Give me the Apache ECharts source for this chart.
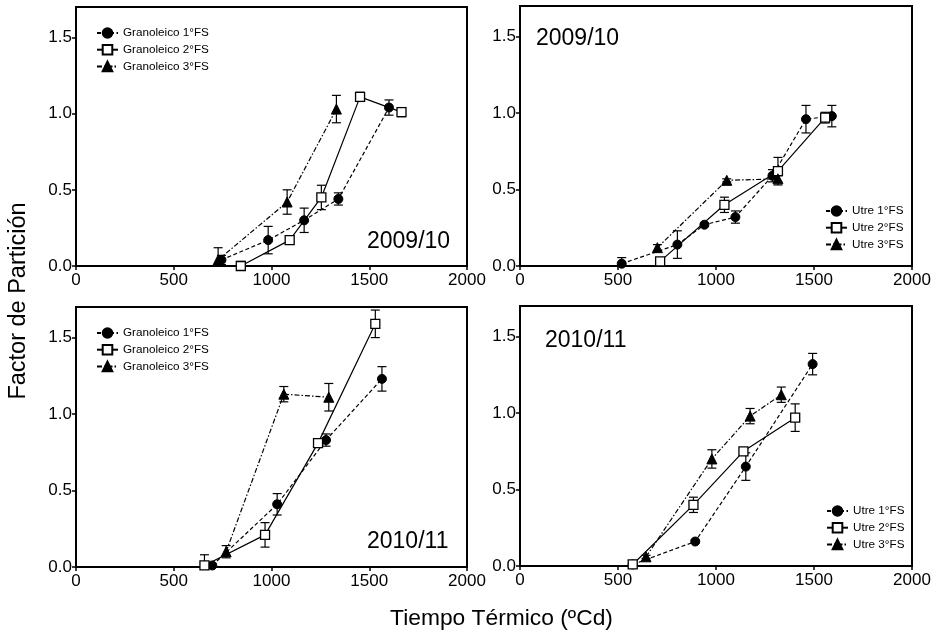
<!DOCTYPE html>
<html><head><meta charset="utf-8">
<script src="https://cdn.jsdelivr.net/npm/echarts@6/dist/echarts.min.js"></script>
<style>html,body{margin:0;padding:0;background:#fff}#c{width:937px;height:634px}</style>
</head><body><div id="c"></div>
<script>
// ---- tick labels / names ----
const xTicks = [0, 500, 1000, 1500, 2000];
const yTicks = [0, 0.5, 1.0, 1.5];
const granNames = ['Granoleico 1°FS', 'Granoleico 2°FS', 'Granoleico 3°FS'];
const utreNames = ['Utre 1°FS', 'Utre 2°FS', 'Utre 3°FS'];
const yearLabels = ['2009/10', '2009/10', '2010/11', '2010/11'];
const xTitle = 'Tiempo Térmico (ºCd)';
const yTitle = 'Factor de Partición';

// ---- Panel 1: Granoleico 2009/10 ----
const g09_fs1_x = [744, 983, 1167, 1342, 1601];
const g09_fs1_y = [0.04, 0.17, 0.30, 0.44, 1.04];
const g09_fs1_e = [0.03, 0.09, 0.08, 0.04, 0.05];
const g09_fs2_x = [843, 1093, 1255, 1453, 1665];
const g09_fs2_y = [0.00, 0.17, 0.45, 1.11, 1.01];
const g09_fs2_e = [0.03, 0.01, 0.08, 0.03, 0.03];
const g09_fs3_x = [727, 1080, 1332];
const g09_fs3_y = [0.04, 0.42, 1.03];
const g09_fs3_e = [0.08, 0.08, 0.09];

// ---- Panel 2: Utre 2009/10 ----
const u09_fs1_x = [519, 803, 941, 1099, 1288, 1459, 1591];
const u09_fs1_y = [0.015, 0.14, 0.27, 0.32, 0.59, 0.96, 0.98];
const u09_fs1_e = [0.04, 0.09, 0.01, 0.04, 0.04, 0.09, 0.07];
const u09_fs2_x = [715, 1043, 1316, 1557];
const u09_fs2_y = [0.03, 0.40, 0.62, 0.97];
const u09_fs2_e = [0.02, 0.05, 0.09, 0.035];
const u09_fs3_x = [701, 1055, 1316];
const u09_fs3_y = [0.12, 0.56, 0.57];
const u09_fs3_e = [0.02, 0.01, 0.02];

// ---- Panel 3: Granoleico 2010/11 ----
const g10_fs1_x = [697, 1029, 1279, 1565];
const g10_fs1_y = [0.01, 0.41, 0.83, 1.23];
const g10_fs1_e = [0.01, 0.07, 0.04, 0.08];
const g10_fs2_x = [657, 967, 1238, 1531];
const g10_fs2_y = [0.01, 0.21, 0.81, 1.59];
const g10_fs2_e = [0.07, 0.08, 0.02, 0.09];
const g10_fs3_x = [768, 1063, 1293];
const g10_fs3_y = [0.10, 1.13, 1.11];
const g10_fs3_e = [0.04, 0.05, 0.09];

// ---- Panel 4: Utre 2010/11 ----
const u10_fs1_x = [575, 894, 1152, 1493];
const u10_fs1_y = [0.01, 0.16, 0.65, 1.32];
const u10_fs1_e = [0.01, 0.01, 0.09, 0.07];
const u10_fs2_x = [575, 885, 1140, 1404];
const u10_fs2_y = [0.01, 0.40, 0.75, 0.97];
const u10_fs2_e = [0.01, 0.05, 0.02, 0.09];
const u10_fs3_x = [643, 979, 1174, 1333];
const u10_fs3_y = [0.06, 0.70, 0.98, 1.12];
const u10_fs3_e = [0.01, 0.06, 0.05, 0.05];

const panels = [
  {names: granNames, s: [[g09_fs1_x, g09_fs1_y, g09_fs1_e], [g09_fs2_x, g09_fs2_y, g09_fs2_e], [g09_fs3_x, g09_fs3_y, g09_fs3_e]]},
  {names: utreNames, s: [[u09_fs1_x, u09_fs1_y, u09_fs1_e], [u09_fs2_x, u09_fs2_y, u09_fs2_e], [u09_fs3_x, u09_fs3_y, u09_fs3_e]]},
  {names: granNames, s: [[g10_fs1_x, g10_fs1_y, g10_fs1_e], [g10_fs2_x, g10_fs2_y, g10_fs2_e], [g10_fs3_x, g10_fs3_y, g10_fs3_e]]},
  {names: utreNames, s: [[u10_fs1_x, u10_fs1_y, u10_fs1_e], [u10_fs2_x, u10_fs2_y, u10_fs2_e], [u10_fs3_x, u10_fs3_y, u10_fs3_e]]}
];

const FONT = '"Liberation Sans", Arial, sans-serif';
const gridPos = [
  {left: 76, top: 7, width: 391, height: 259},
  {left: 520, top: 6, width: 392, height: 260},
  {left: 76, top: 307, width: 391, height: 260},
  {left: 520, top: 306, width: 392, height: 260}
];
const legendPos = [
  {left: 96, top: 27},
  {left: 825, top: 205},
  {left: 96, top: 327},
  {left: 826, top: 505}
];
const yearPos = [
  {x: 367, y: 242},
  {x: 536, y: 38.5},
  {x: 367, y: 541.5},
  {x: 545, y: 341}
];

const styles = [
  {symbol: 'circle', symbolSize: 9, itemStyle: {color: '#000', borderColor: '#000', borderWidth: 1}, lineStyle: {color: '#000', width: 1.2, type: [4, 2.5]}},
  {symbol: 'rect', symbolSize: 9, itemStyle: {color: '#fff', borderColor: '#000', borderWidth: 1.3}, lineStyle: {color: '#000', width: 1.2, type: 'solid'}},
  {symbol: 'triangle', symbolSize: 10, itemStyle: {color: '#000', borderColor: '#000', borderWidth: 1}, lineStyle: {color: '#000', width: 1.2, type: [5, 2, 1.5, 2]}}
];

function errRender(params, api) {
  const x = api.value(0), y = api.value(1), e = api.value(2);
  const t = api.coord([x, y + e]);
  const b = api.coord([x, Math.max(0, y - e)]);
  const w = 4.5;
  const st = {stroke: '#000', lineWidth: 1.2};
  const ch = [{type: 'line', shape: {x1: t[0], y1: t[1], x2: b[0], y2: b[1]}, style: st},
              {type: 'line', shape: {x1: t[0] - w, y1: t[1], x2: t[0] + w, y2: t[1]}, style: st}];
  if (y - e > 0) ch.push({type: 'line', shape: {x1: b[0] - w, y1: b[1], x2: b[0] + w, y2: b[1]}, style: st});
  return {type: 'group', children: ch};
}

const grid = [], xAxis = [], yAxis = [], series = [], legend = [], graphic = [];
panels.forEach((p, gi) => {
  grid.push(Object.assign({show: true, borderColor: '#000', borderWidth: 2, backgroundColor: 'transparent'}, gridPos[gi]));
  xAxis.push({
    type: 'value', gridIndex: gi, min: 0, max: 2000, interval: 500,
    axisLine: {show: true, lineStyle: {color: '#000', width: 2}},
    axisTick: {show: true, length: 4, lineStyle: {color: '#000', width: 1.5}, customValues: xTicks},
    axisLabel: {color: '#000', fontSize: 17, fontFamily: FONT, margin: 6, customValues: xTicks,
      formatter: v => String(Math.round(v))},
    splitLine: {show: false}
  });
  yAxis.push({
    type: 'value', gridIndex: gi, min: 0, max: 1.7,
    axisLine: {show: true, lineStyle: {color: '#000', width: 2}},
    axisTick: {show: true, length: 4, lineStyle: {color: '#000', width: 1.5}, customValues: yTicks},
    axisLabel: {color: '#000', fontSize: 17, fontFamily: FONT, margin: 4, customValues: yTicks,
      formatter: v => Number(v).toFixed(1)},
    splitLine: {show: false}
  });
  p.s.forEach((d, si) => {
    const [xs, ys, es] = d;
    series.push({
      type: 'custom', name: 'err' + gi + '_' + si, xAxisIndex: gi, yAxisIndex: gi,
      renderItem: errRender, clip: true, z: 2, silent: true,
      encode: {x: 0, y: 1},
      data: xs.map((x, i) => [x, ys[i], es[i]])
    });
  });
  p.s.forEach((d, si) => {
    const [xs, ys] = d;
    series.push(Object.assign({
      type: 'line', name: p.names[si], xAxisIndex: gi, yAxisIndex: gi,
      showAllSymbol: true, animation: false, z: 3,
      data: xs.map((x, i) => [x, ys[i]])
    }, JSON.parse(JSON.stringify(styles[si]))));
  });
  legend.push(Object.assign({
    orient: 'vertical', data: p.names, itemWidth: 21, itemHeight: 12, itemGap: 4.7,
    textStyle: {color: '#000', fontSize: 11.7, fontFamily: FONT, lineHeight: 12},
    padding: 0, selectedMode: false
  }, legendPos[gi]));
  graphic.push({
    type: 'text', x: yearPos[gi].x, y: yearPos[gi].y,
    style: {text: yearLabels[gi], fill: '#000', font: '23px ' + FONT, textVerticalAlign: 'middle', verticalAlign: 'middle'}
  });
});
graphic.push({
  type: 'text', x: 19, y: 301, rotation: Math.PI / 2,
  style: {text: yTitle, fill: '#000', font: '23.5px ' + FONT, align: 'center', verticalAlign: 'middle', textAlign: 'center', textVerticalAlign: 'middle'}
});
graphic.push({
  type: 'text', x: 501.5, y: 619,
  style: {text: xTitle, fill: '#000', font: '22.8px ' + FONT, align: 'center', verticalAlign: 'middle', textAlign: 'center', textVerticalAlign: 'middle'}
});

const chart = echarts.init(document.getElementById('c'), null, {renderer: 'canvas'});
chart.setOption({
  animation: false,
  backgroundColor: '#fff',
  grid, xAxis, yAxis, series, legend, graphic
});
</script>
</body></html>
